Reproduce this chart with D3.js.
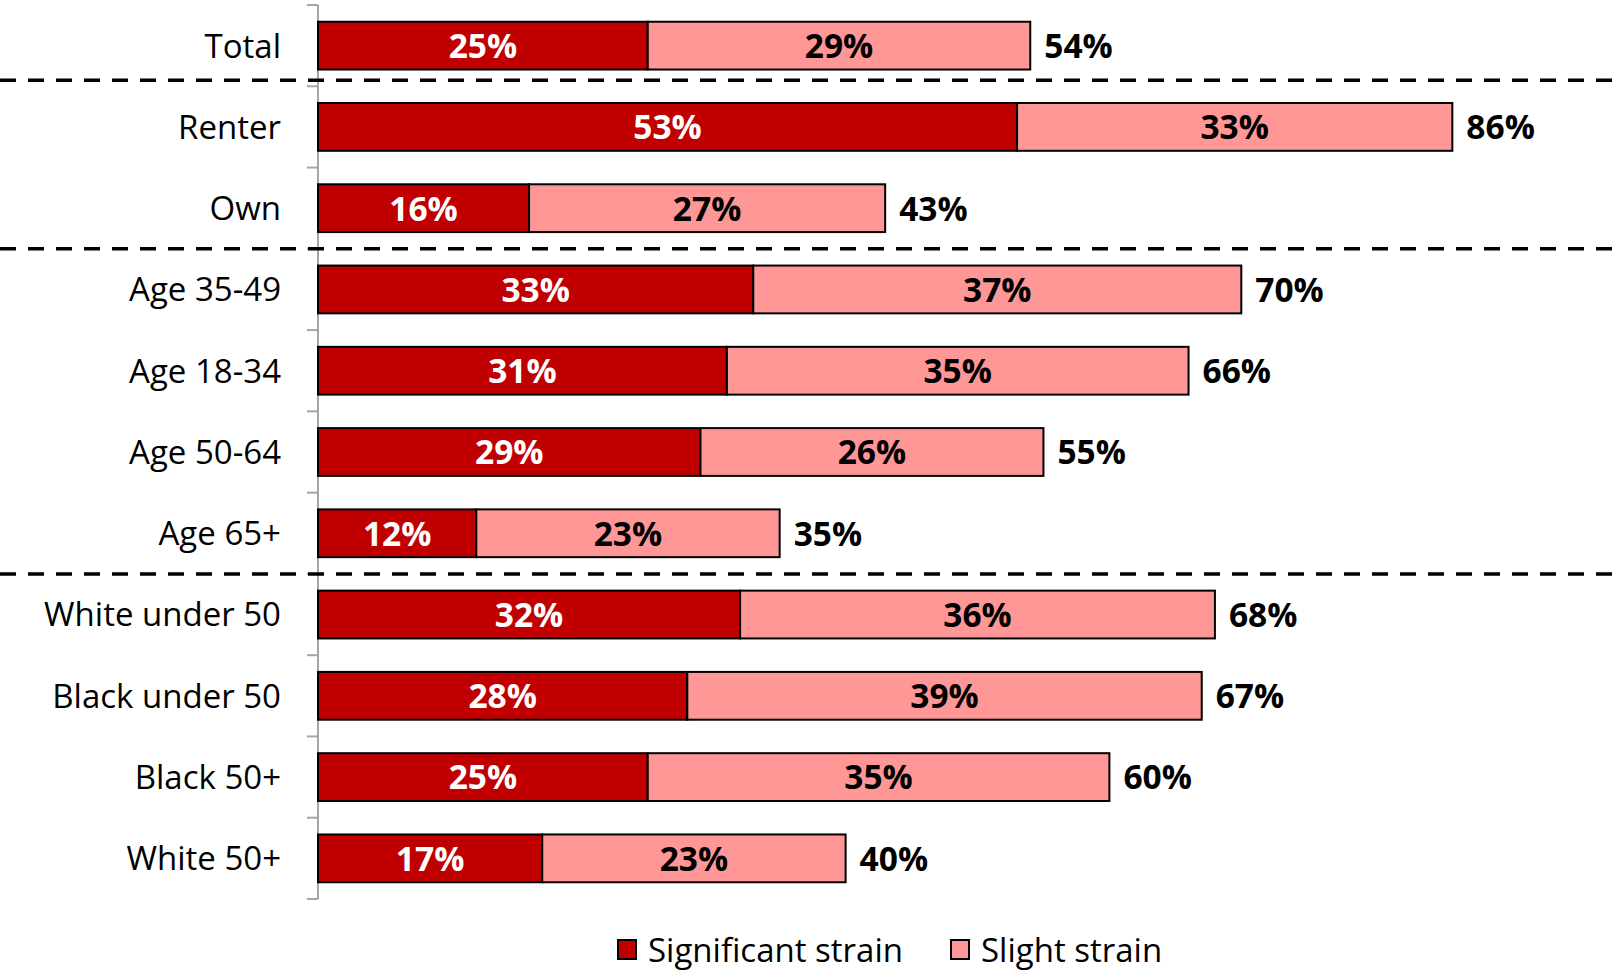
<!DOCTYPE html>
<html>
<head>
<meta charset="utf-8">
<script src="https://cdn.jsdelivr.net/npm/d3@7"></script>
<style>
  html, body { margin: 0; padding: 0; background: #ffffff; }
  svg { display: block; }
  text { font-family: "Open Sans", "Noto Sans", sans-serif; }
</style>
</head>
<body>
<svg id="chart" width="1624" height="972"></svg>
<script>
// ---- data ----
const categories = ["Total", "Renter", "Own", "Age 35-49", "Age 18-34", "Age 50-64", "Age 65+",
  "White under 50", "Black under 50", "Black 50+", "White 50+"];
const significant = [25, 53, 16, 33, 31, 29, 12, 32, 28, 25, 17];
const slight      = [29, 33, 27, 37, 35, 26, 23, 36, 39, 35, 23];
const totals      = [54, 86, 43, 70, 66, 55, 35, 68, 67, 60, 40];
const seriesNames = ["Significant strain", "Slight strain"];
const seriesColors = ["#C00000", "#FF9797"];
const labelColors = ["#FFFFFF", "#000000"];
const dividersBefore = ["Renter", "Age 35-49", "White under 50"];

// ---- layout ----
const W = 1624, H = 972;
const svg = d3.select("#chart");

const x = d3.scaleLinear().domain([0, 100]).range([318, 1637]);
const y = d3.scaleBand().domain(categories).range([5, 899])
  .paddingInner(0.412).paddingOuter(0.206);

const rows = categories.map((c, i) => ({
  cat: c,
  segs: [
    { s: 0, x0: 0, x1: significant[i], v: significant[i] },
    { s: 1, x0: significant[i], x1: significant[i] + slight[i], v: slight[i] }
  ],
  total: totals[i]
}));

// category axis (ticks between categories)
const boundary = i => y.range()[0] + i * y.step();
const axisG = svg.append("g");
axisG.append("line")
  .attr("x1", x(0)).attr("x2", x(0))
  .attr("y1", boundary(0)).attr("y2", boundary(categories.length))
  .attr("stroke", "#A6A6A6").attr("stroke-width", 2);
axisG.selectAll("line.tick").data(d3.range(categories.length + 1)).join("line")
  .attr("class", "tick")
  .attr("x1", x(0) - 11).attr("x2", x(0))
  .attr("y1", d => boundary(d)).attr("y2", d => boundary(d))
  .attr("stroke", "#A6A6A6").attr("stroke-width", 2);

// category labels
svg.append("g").selectAll("text").data(categories).join("text")
  .attr("x", x(0) - 37)
  .attr("y", d => y(d) + y.bandwidth() / 2)
  .attr("dy", "0.36em")
  .attr("text-anchor", "end")
  .attr("font-size", 33)
  .attr("fill", "#000")
  .text(d => d);

// bars
const rowG = svg.append("g").selectAll("g").data(rows).join("g")
  .attr("transform", d => `translate(0,${y(d.cat)})`);

rowG.selectAll("rect").data(d => d.segs).join("rect")
  .attr("x", d => x(d.x0))
  .attr("width", d => x(d.x1) - x(d.x0))
  .attr("y", 0)
  .attr("height", y.bandwidth())
  .attr("fill", d => seriesColors[d.s])
  .attr("stroke", "#000")
  .attr("stroke-width", 2);

rowG.selectAll("text.val").data(d => d.segs).join("text")
  .attr("class", "val")
  .attr("x", d => (x(d.x0) + x(d.x1)) / 2)
  .attr("y", y.bandwidth() / 2)
  .attr("dy", "0.37em")
  .attr("text-anchor", "middle")
  .attr("font-size", 33.5)
  .attr("font-weight", "bold")
  .attr("fill", d => labelColors[d.s])
  .text(d => d.v + "%");

rowG.append("text")
  .attr("x", d => x(d.total) + 14)
  .attr("y", y.bandwidth() / 2)
  .attr("dy", "0.37em")
  .attr("font-size", 33.5)
  .attr("font-weight", "bold")
  .attr("fill", "#000")
  .text(d => d.total + "%");

// dashed group dividers
const dividerNudge = [-6, 0, 0];
svg.append("g").selectAll("line").data(dividersBefore).join("line")
  .attr("x1", 0).attr("x2", W)
  .attr("y1", (d, i) => y(d) - y.step() * y.paddingInner() / 2 + dividerNudge[i])
  .attr("y2", (d, i) => y(d) - y.step() * y.paddingInner() / 2 + dividerNudge[i])
  .attr("stroke", "#000")
  .attr("stroke-width", 3.5)
  .attr("stroke-dasharray", "16 12");

// legend
const legendX = [618, 951];
const leg = svg.append("g").selectAll("g").data(seriesNames).join("g")
  .attr("transform", (d, i) => `translate(${legendX[i]},940)`);
leg.append("rect")
  .attr("width", 18).attr("height", 19)
  .attr("fill", (d, i) => seriesColors[i])
  .attr("stroke", "#000").attr("stroke-width", 2);
leg.append("text")
  .attr("x", 30).attr("y", 10).attr("dy", "0.36em")
  .attr("font-size", 33)
  .attr("fill", "#000")
  .text(d => d);
</script>
</body>
</html>
